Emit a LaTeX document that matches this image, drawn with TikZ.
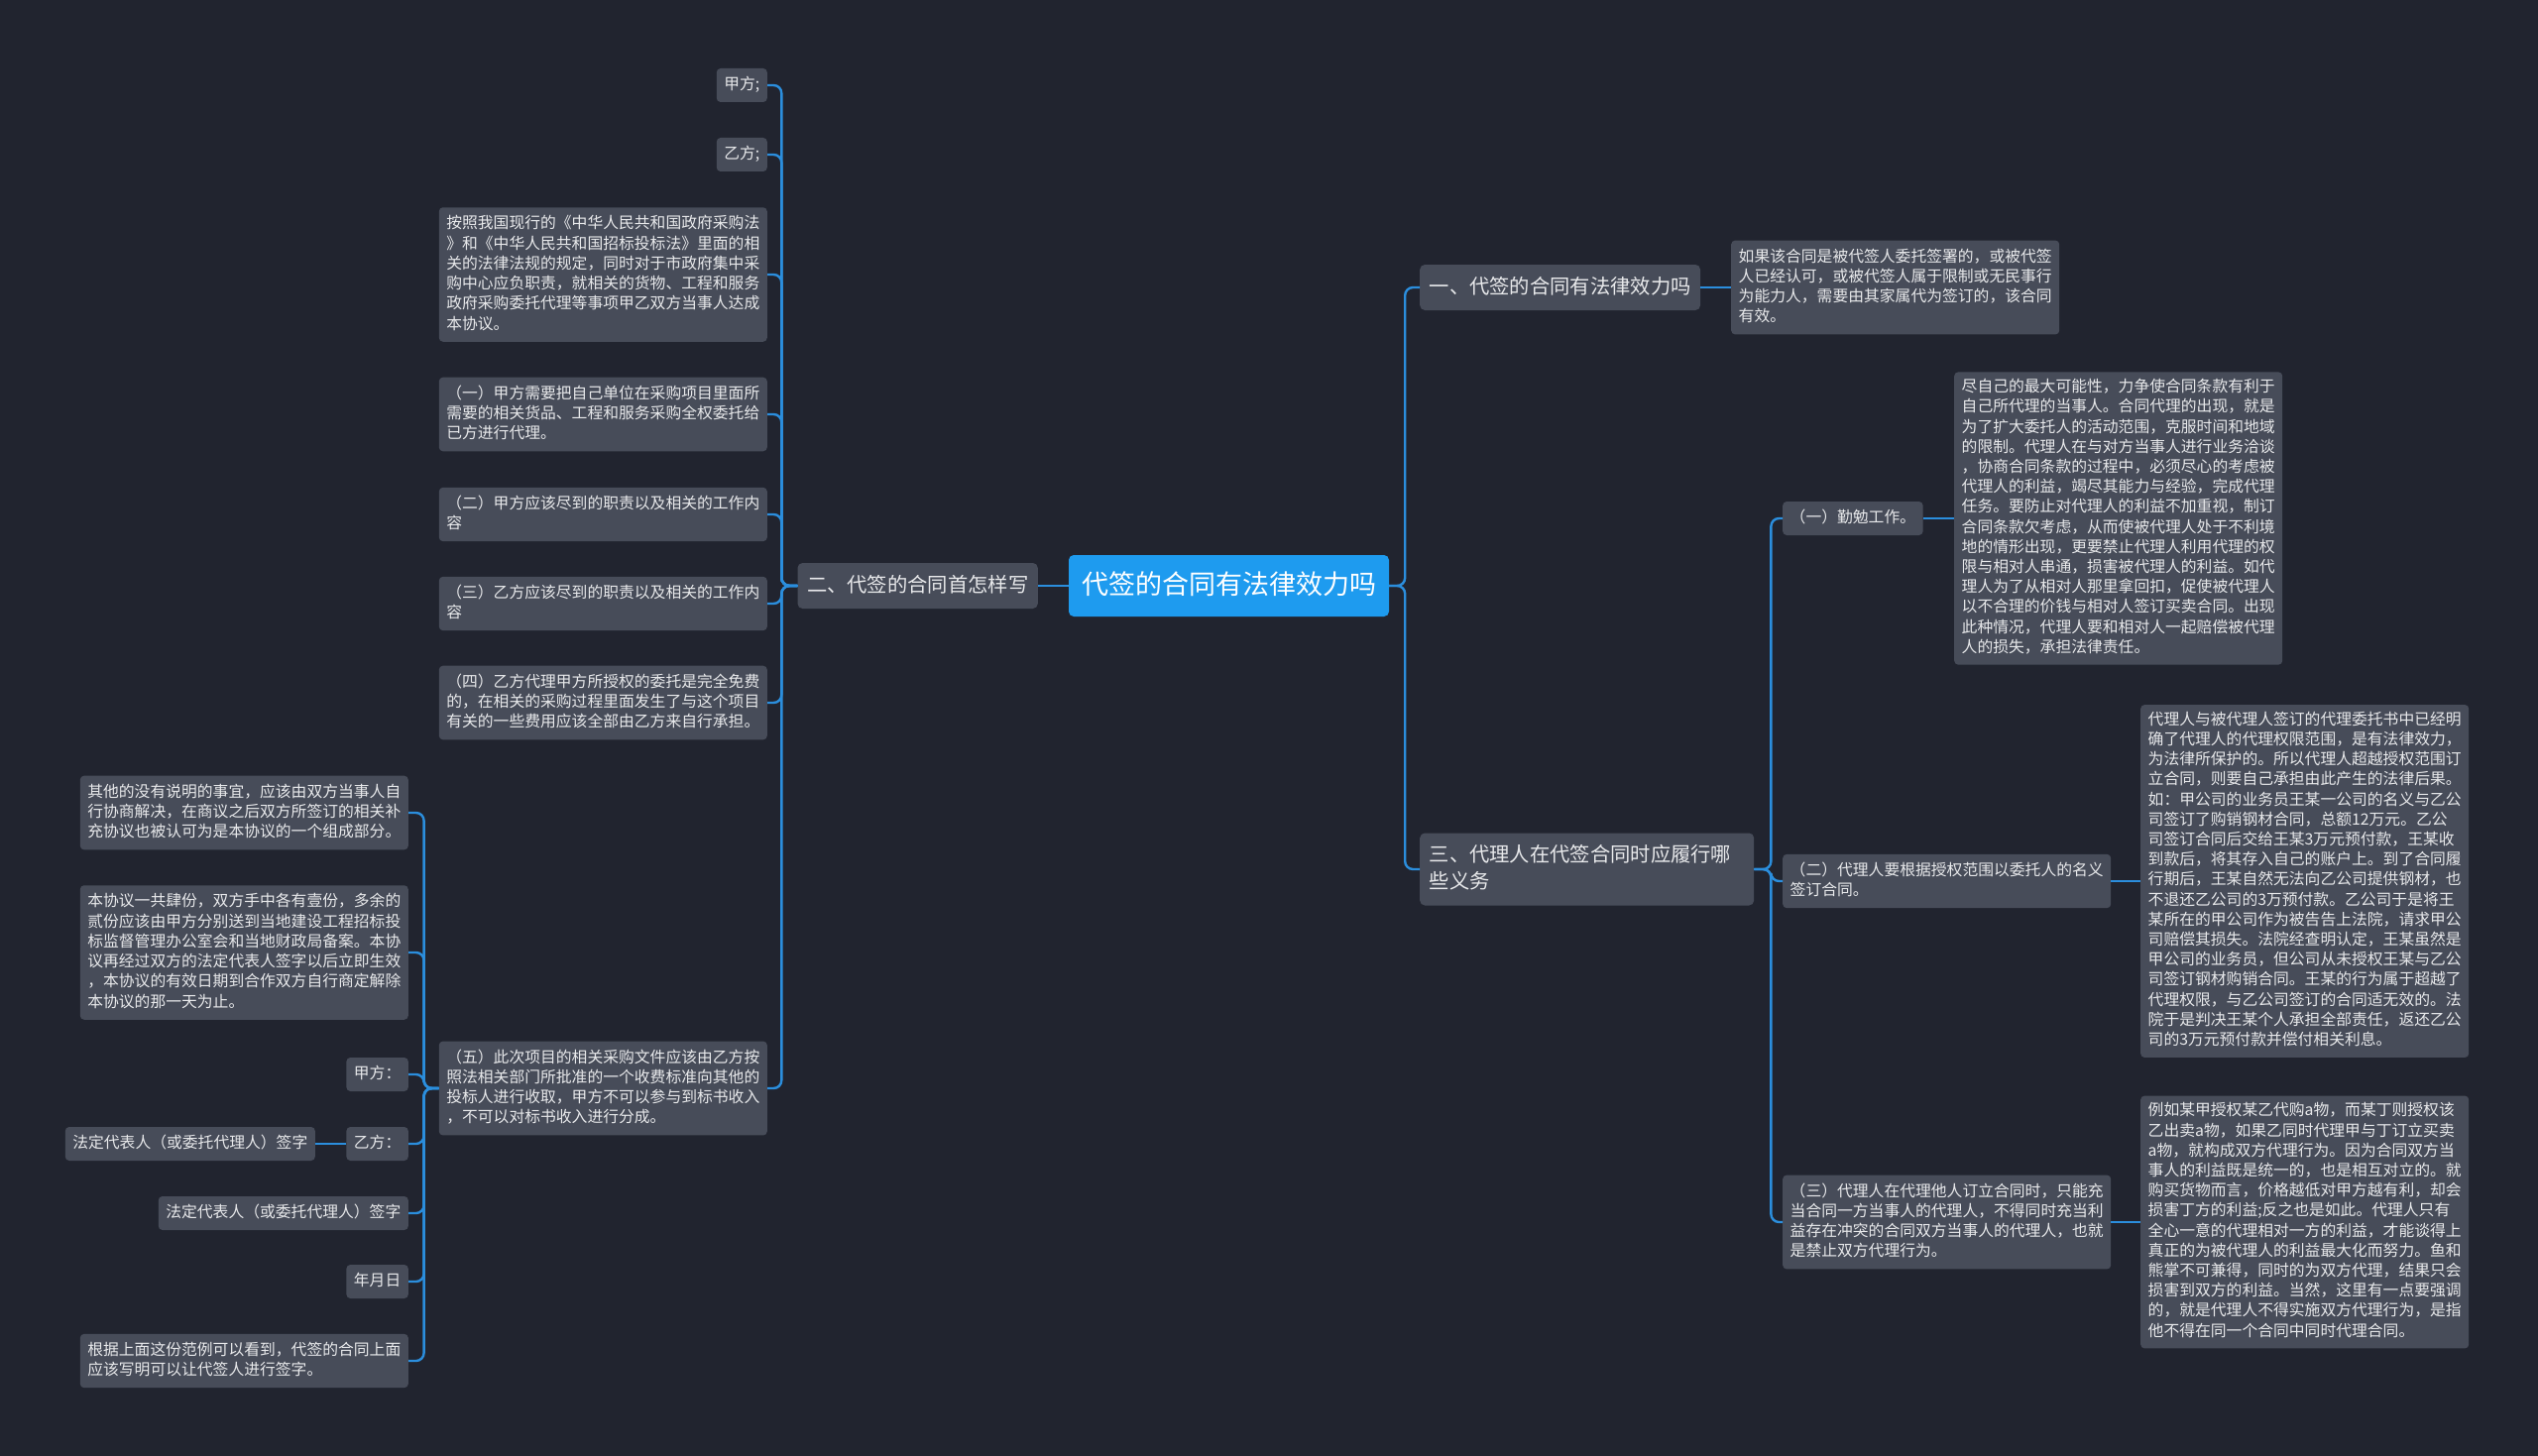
\documentclass[tikz,border=0pt]{standalone}
\usepackage{fontspec}
\setmainfont{Noto Sans CJK SC}
\definecolor{cbg}{HTML}{21242F}
\definecolor{cbox}{HTML}{474C59}
\definecolor{cblue}{HTML}{1E9BEF}
\definecolor{cline}{HTML}{2B8EDD}
\definecolor{ctext}{HTML}{E8E9EB}
\tikzset{
  every picture/.style={x=1pt, y=-1pt},
  root/.style={fill=cblue, text=white, rounded corners=5pt, font=\fontsize{27pt}{34pt}\selectfont, inner xsep=13pt, inner ysep=14pt,
    execute at begin node={\rule[-9pt]{0pt}{34pt}}},
  branch/.style={fill=cbox, text=ctext, rounded corners=5pt, align=left, font=\fontsize{20.3pt}{27pt}\selectfont, inner xsep=9.5pt, inner ysep=9.5pt,
    execute at begin node={\rule[-7.5pt]{0pt}{27pt}}, execute at end node={\rule[-7.5pt]{0pt}{27pt}}},
  leaf/.style={fill=cbox, text=ctext, rounded corners=4pt, align=left, font=\fontsize{15.8pt}{20.3pt}\selectfont, inner xsep=7.5pt, inner ysep=6.85pt,
    execute at begin node={\rule[-5.7pt]{0pt}{20.3pt}}, execute at end node={\rule[-5.7pt]{0pt}{20.3pt}}},
  para/.style={leaf, text width=316pt},
  longpara/.style={fill=cbox, text=ctext, rounded corners=4pt, align=left, text width=316pt, font=\fontsize{15.8pt}{20.2pt}\selectfont, inner xsep=7.5pt, inner ysep=6.85pt,
    execute at begin node={\rule[-5.6pt]{0pt}{19pt}}, execute at end node={\rule[-5.6pt]{0pt}{19pt}}},
  link/.style={draw=cline, line width=2.4pt, rounded corners=8pt},
}
\begin{document}
\begin{tikzpicture}
  \fill[cbg] (0,0) rectangle (2560,1469);
  \useasboundingbox (0,0) rectangle (2560,1469);

  \node[root] (root) at (1239.5,591) {代签的合同有法律效力吗};
  \node[branch, anchor=east] (two) at (1047,591) {二、代签的合同首怎样写};
  \node[branch, anchor=west] (one) at (1432,290) {一、代签的合同有法律效力吗};
  \node[branch, anchor=west, text width=318pt] (three) at (1432,877) {三、代理人在代签合同时应履行哪\\些义务};

  \node[para, anchor=west] (valid) at (1746,290) {如果该合同是被代签人委托签署的，或被代签\\人已经认可，或被代签人属于限制或无民事行\\为能力人，需要由其家属代为签订的，该合同\\有效。};

  \node[leaf, anchor=west] (duty1) at (1798,523) {（一）勤勉工作。};
  \node[para, anchor=west] (duty2) at (1798,889) {（二）代理人要根据授权范围以委托人的名义\\签订合同。};
  \node[para, anchor=west] (duty3) at (1798,1233) {（三）代理人在代理他人订立合同时，只能充\\当合同一方当事人的代理人，不得同时充当利\\益存在冲突的合同双方当事人的代理人，也就\\是禁止双方代理行为。};

  \node[longpara, anchor=west] (diligent) at (1971,523) {尽自己的最大可能性，力争使合同条款有利于\\自己所代理的当事人。合同代理的出现，就是\\为了扩大委托人的活动范围，克服时间和地域\\的限制。代理人在与对方当事人进行业务洽谈\\，协商合同条款的过程中，必须尽心的考虑被\\代理人的利益，竭尽其能力与经验，完成代理\\任务。要防止对代理人的利益不加重视，制订\\合同条款欠考虑，从而使被代理人处于不利境\\地的情形出现，更要禁止代理人利用代理的权\\限与相对人串通，损害被代理人的利益。如代\\理人为了从相对人那里拿回扣，促使被代理人\\以不合理的价钱与相对人签订买卖合同。出现\\此种情况，代理人要和相对人一起赔偿被代理\\人的损失，承担法律责任。};
  \node[longpara, anchor=west] (scope) at (2159,889) {代理人与被代理人签订的代理委托书中已经明\\确了代理人的代理权限范围，是有法律效力，\\为法律所保护的。所以代理人超越授权范围订\\立合同，则要自己承担由此产生的法律后果。\\如：甲公司的业务员王某一公司的名义与乙公\\司签订了购销钢材合同，总额12万元。乙公\\司签订合同后交给王某3万元预付款，王某收\\到款后，将其存入自己的账户上。到了合同履\\行期后，王某自然无法向乙公司提供钢材，也\\不退还乙公司的3万预付款。乙公司于是将王\\某所在的甲公司作为被告告上法院，请求甲公\\司赔偿其损失。法院经查明认定，王某虽然是\\甲公司的业务员，但公司从未授权王某与乙公\\司签订钢材购销合同。王某的行为属于超越了\\代理权限，与乙公司签订的合同适无效的。法\\院于是判决王某个人承担全部责任，返还乙公\\司的3万元预付款并偿付相关利息。};
  \node[longpara, anchor=west] (dual) at (2159,1233) {例如某甲授权某乙代购a物，而某丁则授权该\\乙出卖a物，如果乙同时代理甲与丁订立买卖\\a物，就构成双方代理行为。因为合同双方当\\事人的利益既是统一的，也是相互对立的。就\\购买货物而言，价格越低对甲方越有利，却会\\损害丁方的利益;反之也是如此。代理人只有\\全心一意的代理相对一方的利益，才能谈得上\\真正的为被代理人的利益最大化而努力。鱼和\\熊掌不可兼得，同时的为双方代理，结果只会\\损害到双方的利益。当然，这里有一点要强调\\的，就是代理人不得实施双方代理行为，是指\\他不得在同一个合同中同时代理合同。};

  \node[leaf, anchor=east] (partyA) at (774,86) {甲方;};
  \node[leaf, anchor=east] (partyB) at (774,156) {乙方;};
  \node[para, anchor=east] (basis) at (774,277) {按照我国现行的《中华人民共和国政府采购法\\》和《中华人民共和国招标投标法》里面的相\\关的法律法规的规定，同时对于市政府集中采\\购中心应负职责，就相关的货物、工程和服务\\政府采购委托代理等事项甲乙双方当事人达成\\本协议。};
  \node[para, anchor=east] (clause1) at (774,418) {（一）甲方需要把自己单位在采购项目里面所\\需要的相关货品、工程和服务采购全权委托给\\已方进行代理。};
  \node[para, anchor=east] (clause2) at (774,519) {（二）甲方应该尽到的职责以及相关的工作内\\容};
  \node[para, anchor=east] (clause3) at (774,609) {（三）乙方应该尽到的职责以及相关的工作内\\容};
  \node[para, anchor=east] (clause4) at (774,709) {（四）乙方代理甲方所授权的委托是完全免费\\的，在相关的采购过程里面发生了与这个项目\\有关的一些费用应该全部由乙方来自行承担。};
  \node[para, anchor=east] (clause5) at (774,1098) {（五）此次项目的相关采购文件应该由乙方按\\照法相关部门所批准的一个收费标准向其他的\\投标人进行收取，甲方不可以参与到标书收入\\，不可以对标书收入进行分成。};

  \node[para, anchor=east] (other) at (412,820) {其他的没有说明的事宜，应该由双方当事人自\\行协商解决，在商议之后双方所签订的相关补\\充协议也被认可为是本协议的一个组成部分。};
  \node[para, anchor=east] (copies) at (412,961) {本协议一共肆份，双方手中各有壹份，多余的\\贰份应该由甲方分别送到当地建设工程招标投\\标监督管理办公室会和当地财政局备案。本协\\议再经过双方的法定代表人签字以后立即生效\\，本协议的有效日期到合作双方自行商定解除\\本协议的那一天为止。};
  \node[leaf, anchor=east] (signA) at (412,1084) {甲方：};
  \node[leaf, anchor=east] (signB) at (412,1154) {乙方：};
  \node[leaf, anchor=east] (repB) at (318,1154) {法定代表人（或委托代理人）签字};
  \node[leaf, anchor=east] (repA) at (412,1224) {法定代表人（或委托代理人）签字};
  \node[leaf, anchor=east] (date) at (412,1293) {年月日};
  \node[para, anchor=east] (summary) at (412,1373) {根据上面这份范例可以看到，代签的合同上面\\应该写明可以让代签人进行签字。};

  \draw[link] (root.west) -- (two.east);
  \draw[link] (root.east) -- ++(16,0) |- (one.west);
  \draw[link] (root.east) -- ++(16,0) |- (three.west);
  \draw[link] (one.east) -- (valid.west);
  \foreach \n in {duty1, duty2, duty3}
    \draw[link] (three.east) -- ++(17,0) |- (\n.west);
  \draw[link] (duty1.east) -- (diligent.west);
  \draw[link] (duty2.east) -- (scope.west);
  \draw[link] (duty3.east) -- (dual.west);
  \foreach \n in {partyA, partyB, basis, clause1, clause2, clause3, clause4, clause5}
    \draw[link] (two.west) -- ++(-16,0) |- (\n.east);
  \foreach \n in {other, copies, signA, signB, repA, date, summary}
    \draw[link] (clause5.west) -- ++(-15,0) |- (\n.east);
  \draw[link] (signB.west) -- (repB.east);
\end{tikzpicture}
\end{document}
